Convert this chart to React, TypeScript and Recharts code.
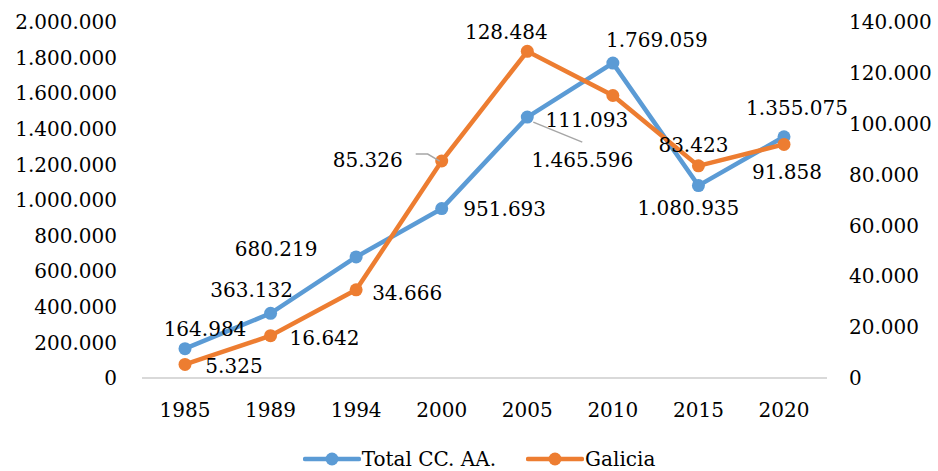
import { LineChart, Line, XAxis, YAxis, Legend, LabelList } from 'recharts';

const years = ['1985', '1989', '1994', '2000', '2005', '2010', '2015', '2020'];
const totalCCAA = [164984, 363132, 680219, 951693, 1465596, 1769059, 1080935, 1355075];
const galicia = [5325, 16642, 34666, 85326, 128484, 111093, 83423, 91858];
const leftTicks = [0, 200000, 400000, 600000, 800000, 1000000, 1200000, 1400000, 1600000, 1800000, 2000000];
const rightTicks = [0, 20000, 40000, 60000, 80000, 100000, 120000, 140000];

// label placement relative to each point (dx, dy)
const blueLabelPos = [[20, -20], [-19, -23], [-80, -8], [63, 0], [55, 43], [44, -23], [-10, 22], [13, -29]];
const orangeLabelPos = [[49, 2], [54, 2], [51, 3], [-74, -1], [-21, -19], [-26, 24], [-5, -21], [3, 28]];
const blueLeaders: Record<number, number[][]> = { 4: [[6, 5], [55, 25]] };
const orangeLeaders: Record<number, number[][]> = { 3: [[-26, -7], [-14, -7], [-2, 0]] };

const BLUE = '#5B9BD5';
const ORANGE = '#ED7D31';
const FONT = '"DejaVu Serif", serif';

const fmt = (v: number) => String(Math.round(v)).replace(/\B(?=(\d{3})+(?!\d))/g, '.');

const data = years.map((year, i) => ({ year, total: totalCCAA[i], galicia: galicia[i] }));

const makeLabel = (pos: number[][], leaders: Record<number, number[][]>) => (props: any) => {
  const { x, y, index, value } = props;
  const [dx, dy] = pos[index];
  const leader = leaders[index];
  return (
    <g key={`lbl-${index}`}>
      {leader && (
        <polyline
          points={leader.map(([lx, ly]) => `${x + lx},${y + ly}`).join(' ')}
          fill="none"
          stroke="#A6A6A6"
          strokeWidth={1.5}
        />
      )}
      <text
        x={x + dx}
        y={y + dy}
        textAnchor="middle"
        dominantBaseline="central"
        fill="#000"
        fontSize={20}
        fontFamily={FONT}
      >
        {fmt(value)}
      </text>
    </g>
  );
};

const LegendContent = () => {
  const items = [
    { name: 'Total CC. AA.', color: BLUE },
    { name: 'Galicia', color: ORANGE },
  ];
  return (
    <div style={{ display: 'flex', justifyContent: 'center', alignItems: 'center', height: 40, paddingTop: 16, boxSizing: 'border-box', paddingLeft: 50 }}>
      {items.map((it) => (
        <div key={it.name} style={{ display: 'flex', alignItems: 'center', marginRight: 30 }}>
          <svg width={58} height={16}>
            <line x1={2} y1={8} x2={56} y2={8} stroke={it.color} strokeWidth={4.5} strokeLinecap="round" />
            <circle cx={29} cy={8} r={6.5} fill={it.color} />
          </svg>
          <span style={{ fontFamily: FONT, fontSize: 20, color: '#000', marginLeft: 1 }}>{it.name}</span>
        </div>
      ))}
    </div>
  );
};

export default function App() {
  const tickStyle = { fill: '#000', fontSize: 20, fontFamily: FONT };
  return (
    <div style={{ position: 'absolute', left: 0, top: 0, width: 938, height: 471, background: '#fff' }}>
      <LineChart width={938} height={471} data={data} margin={{ top: 22, right: 0, bottom: 0, left: 0 }}>
        <XAxis
          dataKey="year"
          height={53}
          padding={{ left: 43, right: 43 }}
          axisLine={{ stroke: '#D9D9D9', strokeWidth: 2 }}
          tickLine={false}
          tickMargin={19}
          tick={tickStyle}
        />
        <YAxis
          yAxisId="left"
          width={142}
          domain={[0, 2000000]}
          ticks={leftTicks}
          interval={0}
          axisLine={false}
          tickLine={false}
          tickMargin={19}
          tick={tickStyle}
          tickFormatter={fmt}
        />
        <YAxis
          yAxisId="right"
          orientation="right"
          width={111}
          domain={[0, 140000]}
          ticks={rightTicks}
          interval={0}
          axisLine={false}
          tickLine={false}
          tickMargin={16}
          tick={{ ...tickStyle, textAnchor: 'start' }}
          tickFormatter={fmt}
        />
        <Legend verticalAlign="bottom" height={40} content={<LegendContent />} />
        <Line
          yAxisId="left"
          dataKey="total"
          name="Total CC. AA."
          stroke={BLUE}
          strokeWidth={4.5}
          dot={{ r: 6.5, fill: BLUE, stroke: BLUE, strokeWidth: 0 }}
          activeDot={false}
          isAnimationActive={false}
        >
          <LabelList dataKey="total" content={makeLabel(blueLabelPos, blueLeaders)} />
        </Line>
        <Line
          yAxisId="right"
          dataKey="galicia"
          name="Galicia"
          stroke={ORANGE}
          strokeWidth={4.5}
          dot={{ r: 6.5, fill: ORANGE, stroke: ORANGE, strokeWidth: 0 }}
          activeDot={false}
          isAnimationActive={false}
        >
          <LabelList dataKey="galicia" content={makeLabel(orangeLabelPos, orangeLeaders)} />
        </Line>
      </LineChart>
    </div>
  );
}
